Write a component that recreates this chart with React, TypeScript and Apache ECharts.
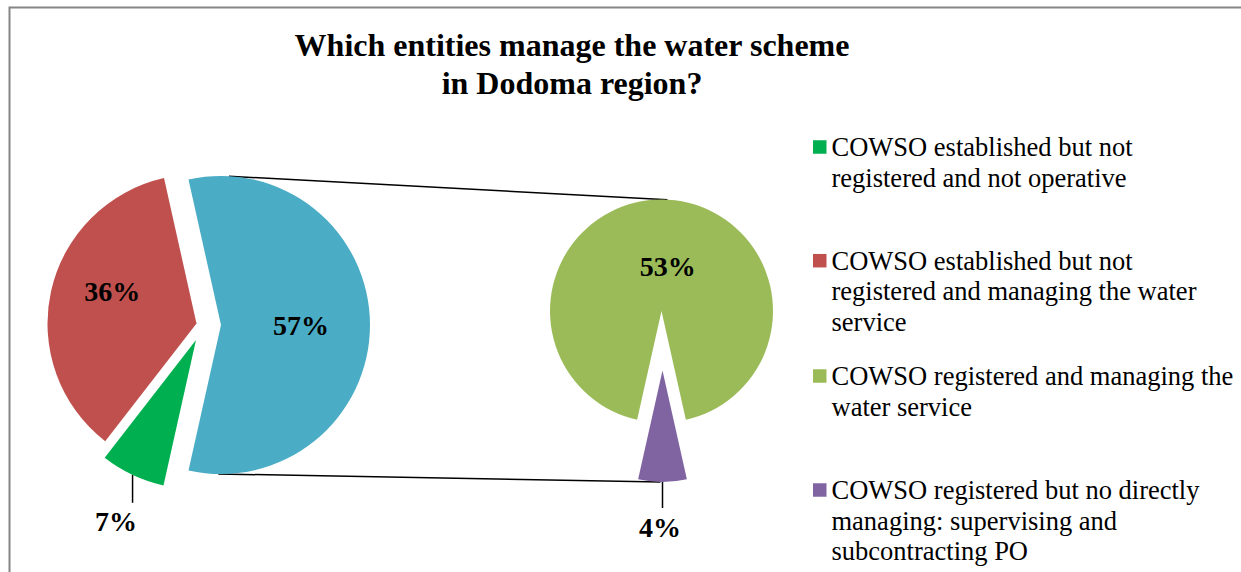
import React, { useEffect, useRef } from 'react';
import * as echarts from 'echarts';

// ---------- data ----------
const categories = [
  'COWSO established but not registered and not operative',
  'COWSO established but not registered and managing the water service',
  'COWSO registered and managing the water service',
  'COWSO registered but no directly managing: supervising and subcontracting PO',
];
const legendLines = [
  ['COWSO established but not', 'registered and not operative'],
  ['COWSO established but not', 'registered and managing the water', 'service'],
  ['COWSO registered and managing the', 'water service'],
  ['COWSO registered but no directly', 'managing: supervising and', 'subcontracting PO'],
];
const values = [7, 36, 53, 4]; // % of schemes
const otherName = 'Other';
const titleText = 'Which entities manage the water scheme\nin Dodoma region?';

// ---------- styles ----------
const colors = ['#00B050', '#C0504D', '#9BBB59', '#8064A2'];
const otherColor = '#4BACC6';
const FONT = "'Liberation Serif', 'Times New Roman', serif";

const TOTAL = values.reduce((a, b) => a + b, 0);
const otherValue = values[2] + values[3];

// main pie (clockwise from start): Other, cat0, cat1
const mainNames = [otherName, categories[0], categories[1]];
const mainValues = [otherValue, values[0], values[1]];
const mainColors = [otherColor, colors[0], colors[1]];
// secondary pie (clockwise from start): cat3, cat2
const secNames = [categories[3], categories[2]];
const secValues = [values[3], values[2]];
const secColors = [colors[3], colors[2]];

// geometry (layout only)
const MAIN_C = [196.5, 323.5];
const MAIN_R = 149;
const MAIN_EXPLODE = [[24.5, 1.5], [-0.5, 16.5], [0, 0]];
const SEC_C = [661.5, 311];
const SEC_R = 111.5;
const SEC_EXPLODE = [[1, 59.5], [0, 0]];

type LabelCfg = { kind: 'inside' | 'outside'; dx: number; dy: number; len?: number };
const MAIN_LABELS: LabelCfg[] = [
  { kind: 'inside', dx: 2.5, dy: 0 },
  { kind: 'outside', dx: -16.6, dy: 46.4, len: 28 },
  { kind: 'inside', dx: -8.6, dy: -15 },
];
const SEC_LABELS: LabelCfg[] = [
  { kind: 'outside', dx: -2.5, dy: 45.5, len: 26 },
  { kind: 'inside', dx: 6.2, dy: 14 },
];

const mainStart = (otherValue / TOTAL) * 360 / 2;
const secStart = 360 + ((values[3] / otherValue) * 360) / 2 - 90;

function slicePie(
  names: string[], vals: number[], fills: string[], center: number[], radius: number,
  startAngle: number, vis: number, cfg: LabelCfg
) {
  const outside = cfg.kind === 'outside';
  return {
    type: 'pie',
    center,
    radius,
    startAngle,
    clockwise: true,
    avoidLabelOverlap: false,
    silent: true,
    emphasis: { disabled: true },
    itemStyle: { borderWidth: 0 },
    label: {
      show: false,
      position: outside ? 'outside' : 'inside',
      formatter: (p: any) => Math.round((p.value / TOTAL) * 100) + '%',
      fontFamily: FONT,
      fontWeight: 'bold',
      fontSize: 28,
      color: '#000',
    },
    labelLine: {
      show: false,
      length: 10,
      length2: 0,
      lineStyle: { color: '#000', width: 1.5 },
    },
    labelLayout: (params: any) => {
      if (params.dataIndex !== vis) return {};
      const r = params.labelRect;
      if (!outside) {
        return {
          x: r.x + r.width / 2 + cfg.dx,
          y: r.y + r.height / 2 + cfg.dy,
          align: 'center',
          verticalAlign: 'middle',
        };
      }
      const p0 =
        params.labelLinePoints && params.labelLinePoints[0]
          ? params.labelLinePoints[0]
          : [params.rect.x + params.rect.width / 2, params.rect.y + params.rect.height];
      const L = cfg.len || 20;
      return {
        x: p0[0] + cfg.dx,
        y: p0[1] + cfg.dy,
        align: 'center',
        verticalAlign: 'middle',
        labelLinePoints: [
          [p0[0], p0[1]],
          [p0[0], p0[1] + L],
          [p0[0], p0[1] + L],
        ],
      };
    },
    data: names.map((n, j) => ({
      name: n,
      value: vals[j],
      itemStyle: { color: j === vis ? fills[j] : 'rgba(0,0,0,0)', borderWidth: 0 },
      label: { show: j === vis },
      labelLine: { show: j === vis && outside },
    })),
  };
}

function outerTangent(c1: number[], r1: number, c2: number[], r2: number, side: number) {
  const dx = c2[0] - c1[0];
  const dy = c2[1] - c1[1];
  const D = Math.hypot(dx, dy);
  const phi = Math.atan2(dy, dx);
  const a = Math.acos((r2 - r1) / D);
  const th = phi + side * a;
  const n = [Math.cos(th), Math.sin(th)];
  return [
    [c1[0] - r1 * n[0], c1[1] - r1 * n[1]],
    [c2[0] - r2 * n[0], c2[1] - r2 * n[1]],
  ];
}

export default function App() {
  const ref = useRef<HTMLDivElement>(null);
  useEffect(() => {
    if (!ref.current) return;
    const chart = echarts.init(ref.current, undefined, { renderer: 'svg' });

    const mainCenters = MAIN_EXPLODE.map((o) => [MAIN_C[0] + o[0], MAIN_C[1] + o[1]]);
    const secCenters = SEC_EXPLODE.map((o) => [SEC_C[0] + o[0], SEC_C[1] + o[1]]);

    const series: any[] = [];
    mainNames.forEach((_, i) =>
      series.push(slicePie(mainNames, mainValues, mainColors, mainCenters[i], MAIN_R, mainStart, i, MAIN_LABELS[i]))
    );
    secNames.forEach((_, i) =>
      series.push(slicePie(secNames, secValues, secColors, secCenters[i], SEC_R, secStart, i, SEC_LABELS[i]))
    );

    // connector lines: tangents from the "Other" slice circle to the secondary pie
    const topLine = outerTangent(mainCenters[0], MAIN_R, secCenters[1], SEC_R, 1);
    const botLine = outerTangent(mainCenters[0], MAIN_R, secCenters[0], SEC_R, -1);

    const LH = 30.5;
    const iconCenters = [147, 260.7, 376, 490];
    const legends = categories.map((c, k) => {
      const lines = legendLines[k];
      const n = lines.length;
      return {
        data: [{ name: c, itemStyle: { color: colors[k] } }],
        left: 813,
        top: iconCenters[k] - ((2 * n - 1) * LH) / 2,
        padding: 0,
        orient: 'vertical',
        icon: 'rect',
        itemWidth: 13.5,
        itemHeight: 13.5,
        itemGap: 0,
        formatter: () => lines.map((l) => '{t|' + l + '}').join('\n'),
        textStyle: {
          fontFamily: FONT,
          fontSize: 26.5,
          lineHeight: LH,
          color: '#000',
          padding: [(n - 1) * LH, 0, 0, 0],
          rich: {
            t: { fontFamily: FONT, fontSize: 26.5, lineHeight: LH, color: '#000' },
          },
        },
      };
    });

    chart.setOption({
      animation: false,
      backgroundColor: '#fff',
      title: {
        text: titleText,
        left: 572,
        top: 26,
        padding: 0,
        textAlign: 'center',
        textVerticalAlign: 'top',
        textStyle: {
          fontFamily: FONT,
          fontWeight: 'bold',
          fontSize: 32,
          lineHeight: 38,
          color: '#000',
        },
      },
      legend: legends,
      graphic: [
        {
          type: 'rect',
          silent: true,
          shape: { x: 9.5, y: 7.5, width: 1300, height: 650 },
          style: { fill: 'none', stroke: '#858585', lineWidth: 2 },
        },
        {
          type: 'line',
          silent: true,
          shape: { x1: topLine[0][0], y1: topLine[0][1], x2: topLine[1][0], y2: topLine[1][1] },
          style: { stroke: '#000', lineWidth: 1.5 },
        },
        {
          type: 'line',
          silent: true,
          shape: { x1: botLine[0][0], y1: botLine[0][1], x2: botLine[1][0], y2: botLine[1][1] },
          style: { stroke: '#000', lineWidth: 1.5 },
        },
      ],
      series,
    });

    return () => chart.dispose();
  }, []);

  return (
    <div
      ref={ref}
      style={{ position: 'fixed', left: 0, top: 0, width: 1241, height: 572, background: '#fff' }}
    />
  );
}
